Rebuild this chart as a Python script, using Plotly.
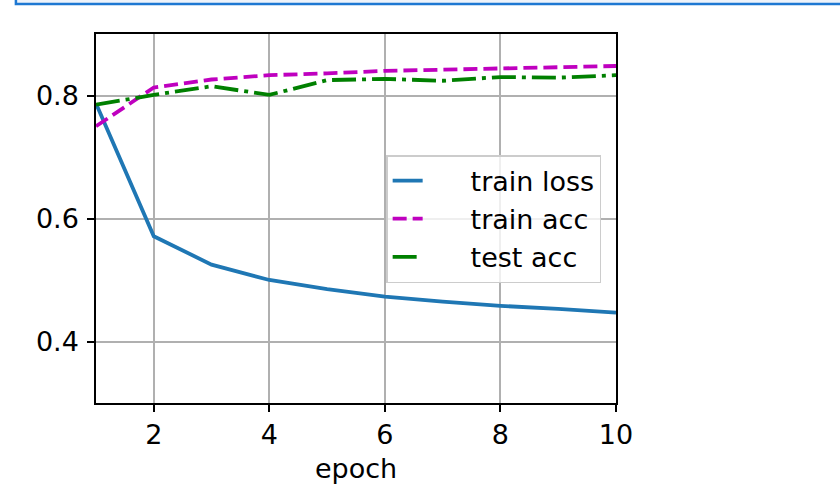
import plotly.graph_objects as go

# values
epochs = [1, 2, 3, 4, 5, 6, 7, 8, 9, 10]
train_loss = [0.787, 0.571, 0.525, 0.500, 0.485, 0.473, 0.465, 0.458, 0.453, 0.447]
train_acc = [0.750, 0.813, 0.826, 0.833, 0.836, 0.840, 0.842, 0.844, 0.846, 0.848]
test_acc = [0.785, 0.801, 0.815, 0.801, 0.825, 0.827, 0.824, 0.830, 0.829, 0.833]

x_ticks = [2, 4, 6, 8, 10]
y_ticks = [0.4, 0.6, 0.8]

FONT = "DejaVu Sans"
FS = 27
PAD = "\u00a0" * 5  # gap between legend line and label, like matplotlib

fig = go.Figure()
fig.add_trace(go.Scatter(x=epochs, y=train_loss, mode="lines", name=PAD + "train loss",
                         line=dict(color="#1f77b4", width=3.8)))
fig.add_trace(go.Scatter(x=epochs, y=train_acc, mode="lines", name=PAD + "train acc",
                         line=dict(color="#bf00bf", width=3.8, dash="14px,6px")))
fig.add_trace(go.Scatter(x=epochs, y=test_acc, mode="lines", name=PAD + "test acc",
                         line=dict(color="#008000", width=3.8, dash="24px,6px,4px,6px")))

axis_style = dict(
    showline=True, linecolor="black", linewidth=1.5, mirror=True,
    showgrid=True, gridcolor="#b0b0b0", gridwidth=1.5,
    ticks="outside", ticklen=7, tickwidth=1.5, tickcolor="black",
    zeroline=False, tickfont=dict(family=FONT, size=FS, color="black"),
)

fig.update_xaxes(range=[1, 10], tickvals=x_ticks,
                 title=dict(text="epoch", font=dict(family=FONT, size=FS, color="black"),
                            standoff=10),
                 **axis_style)
fig.update_yaxes(range=[0.3, 0.9], tickvals=y_ticks, tickformat=".1f",
                 ticklabelstandoff=3, **axis_style)

# cropped edge of the box above the figure
fig.add_shape(type="rect", xref="paper", yref="paper",
              x0=-0.154, x1=1.45, y0=1.0813, y1=1.12,
              line=dict(color="#1e78d2", width=2.5), fillcolor="#eef3fa", layer="above")

fig.update_layout(
    width=840, height=490,
    margin=dict(l=96, r=224, t=34, b=87),
    paper_bgcolor="white", plot_bgcolor="white",
    font=dict(family=FONT, size=FS, color="black"),
    showlegend=True,
    legend=dict(x=0.558, y=0.672, xanchor="left", yanchor="top",
                bgcolor="rgba(255,255,255,0.8)", bordercolor="#cccccc", borderwidth=1.5,
                font=dict(family=FONT, size=FS, color="black")),
)

# drop the default 8px page margin so the figure sits at the window corner
fig.write_html("out.html", config={"displayModeBar": False},
               post_script="document.body.style.margin='0';")
